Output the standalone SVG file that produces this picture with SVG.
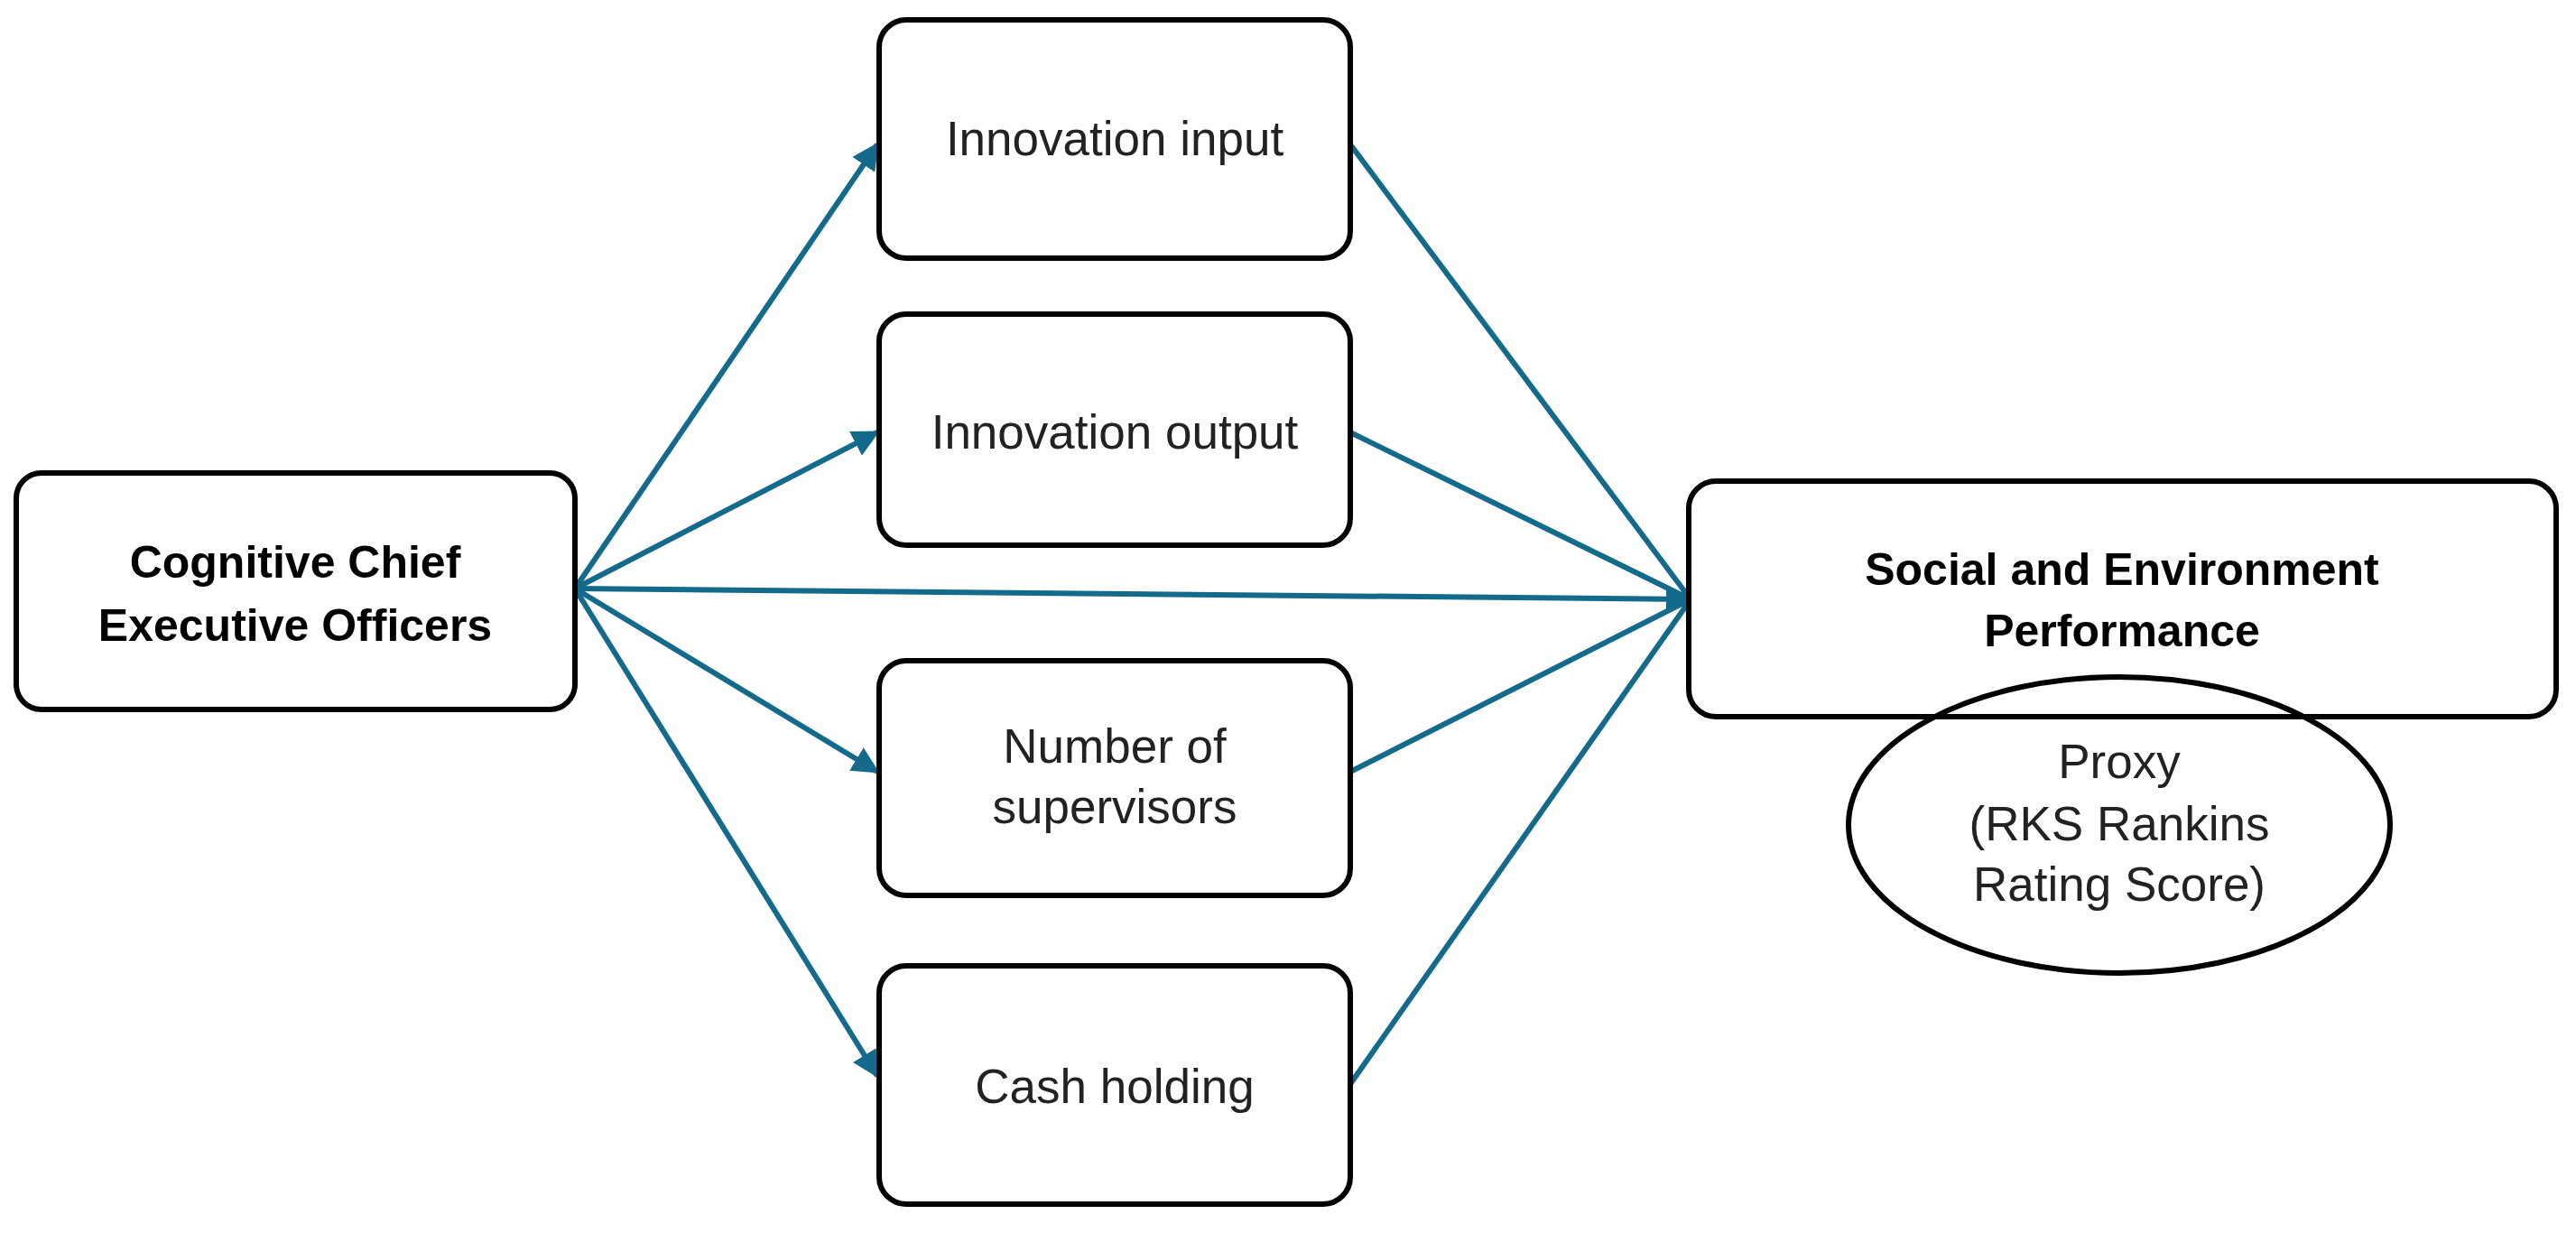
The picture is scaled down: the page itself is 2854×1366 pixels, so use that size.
<svg xmlns="http://www.w3.org/2000/svg" width="2854" height="1366" viewBox="0 0 2854 1366">
<defs>
<style>
.box{fill:#fff;stroke:#000;stroke-width:6}
.t{font-family:"Liberation Sans",Arial,sans-serif;font-size:53px;fill:#222;text-anchor:middle}
.b{font-weight:bold;font-size:50px;fill:#000}
.c{stroke:#136a8a;stroke-width:6;fill:none}
</style>
<marker id="ah" viewBox="0 0 10 10" refX="9" refY="5" markerWidth="5" markerHeight="5" orient="auto" markerUnits="strokeWidth"><path d="M0,0L10,5L0,10z" fill="#136a8a"/></marker>
</defs>
<rect width="2854" height="1366" fill="#fff"/>
<g id="connectors">
<line class="c" x1="637" y1="652" x2="972" y2="160" marker-end="url(#ah)"/>
<line class="c" x1="637" y1="652" x2="972" y2="479" marker-end="url(#ah)"/>
<line class="c" x1="637" y1="652" x2="972" y2="855" marker-end="url(#ah)"/>
<line class="c" x1="637" y1="652" x2="972" y2="1192" marker-end="url(#ah)"/>
<line class="c" x1="637" y1="652" x2="1873" y2="664" marker-end="url(#ah)"/>
<line class="c" x1="1496" y1="160" x2="1873" y2="664"/>
<line class="c" x1="1496" y1="479" x2="1873" y2="664"/>
<line class="c" x1="1496" y1="855" x2="1873" y2="664"/>
<line class="c" x1="1496" y1="1201" x2="1873" y2="664"/>
</g>
<g id="ceo"><rect class="box" x="18" y="524" width="619" height="262" rx="28"/>
<text class="t b" x="327" y="640">Cognitive Chief</text><text class="t b" x="327" y="710">Executive Officers</text></g>
<g id="input"><rect class="box" x="974" y="22" width="522" height="264" rx="30"/><text class="t" x="1235" y="172">Innovation input</text></g>
<g id="output"><rect class="box" x="974" y="348" width="522" height="256" rx="30"/><text class="t" x="1235" y="497">Innovation output</text></g>
<g id="supervisors"><rect class="box" x="974" y="732" width="522" height="260" rx="30"/><text class="t" x="1235" y="845">Number of</text><text class="t" x="1235" y="912">supervisors</text></g>
<g id="cash"><rect class="box" x="974" y="1070" width="522" height="264" rx="30"/><text class="t" x="1235" y="1222">Cash holding</text></g>
<g id="sep"><rect class="box" x="1871" y="533" width="961" height="261" rx="30"/>
<text class="t b" x="2351" y="648">Social and Environment</text><text class="t b" x="2351" y="716">Performance</text></g>
<g id="proxy"><ellipse cx="2348" cy="914" rx="300" ry="164" fill="none" stroke="#000" stroke-width="6"/>
<text class="t" x="2348" y="862">Proxy</text><text class="t" x="2348" y="931">(RKS Rankins</text><text class="t" x="2348" y="998">Rating Score)</text></g>
</svg>
